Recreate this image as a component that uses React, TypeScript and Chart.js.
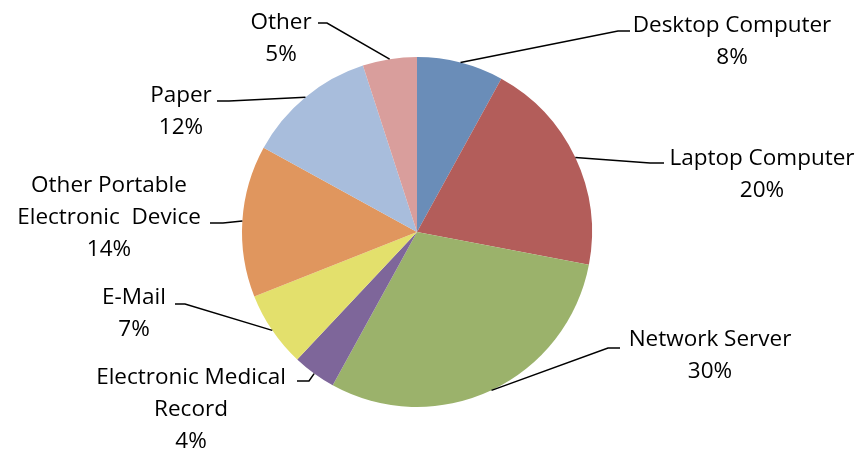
import { useEffect, useRef } from "react";
import { Chart, registerables } from "chart.js";

Chart.register(...registerables);

const categories = [
  "Desktop Computer",
  "Laptop Computer",
  "Network Server",
  "Electronic Medical Record",
  "E-Mail",
  "Other Portable Electronic  Device",
  "Paper",
  "Other",
];
const labelLines = [
  ["Desktop Computer"],
  ["Laptop Computer"],
  ["Network Server"],
  ["Electronic Medical", "Record"],
  ["E-Mail"],
  ["Other Portable", "Electronic  Device"],
  ["Paper"],
  ["Other"],
];
const values = [8, 20, 30, 4, 7, 14, 12, 5];
const colors = [
  "#6A8DB8",
  "#B35D5A",
  "#9BB26B",
  "#7E669A",
  "#E3E06C",
  "#E0965E",
  "#A8BDDC",
  "#D99E9C",
];

// label placement (layout only): elbow of leader line, horizontal end, text centre x, first line y
const labelLayout = [
  { elbow: [618, 31], end: [630, 31], tx: 732, ty: 25 },
  { elbow: [650, 163], end: [664, 163], tx: 762, ty: 158 },
  { elbow: [608, 348], end: [620, 348], tx: 710, ty: 339 },
  { elbow: [309, 381], end: [297, 381], tx: 191, ty: 377 },
  { elbow: [185, 304], end: [175, 304], tx: 134, ty: 297 },
  { elbow: [223, 223], end: [210, 223], tx: 109, ty: 185 },
  { elbow: [229, 101], end: [217, 101], tx: 181, ty: 95 },
  { elbow: [327, 23], end: [318, 23], tx: 281, ty: 22 },
];

const FONT = "22.5px 'Open Sans', sans-serif";
const LINE_H = 32;

const labelPlugin = {
  id: "leaderLabels",
  afterDraw(chart: any) {
    const ctx = chart.ctx;
    const meta = chart.getDatasetMeta(0);
    const data = chart.data.datasets[0].data as number[];
    const total = data.reduce((a, b) => a + b, 0);
    ctx.save();
    meta.data.forEach((arc: any, i: number) => {
      const { x, y, startAngle, endAngle, outerRadius } = arc.getProps(
        ["x", "y", "startAngle", "endAngle", "outerRadius"],
        true
      );
      const mid = (startAngle + endAngle) / 2;
      const px = x + Math.cos(mid) * outerRadius;
      const py = y + Math.sin(mid) * outerRadius;
      const L = labelLayout[i];
      ctx.strokeStyle = "#000";
      ctx.lineWidth = 1.5;
      ctx.beginPath();
      ctx.moveTo(px, py);
      ctx.lineTo(L.elbow[0], L.elbow[1]);
      ctx.lineTo(L.end[0], L.end[1]);
      ctx.stroke();
      const lines = [...labelLines[i], Math.round((data[i] / total) * 100) + "%"];
      ctx.fillStyle = "#000";
      ctx.font = FONT;
      ctx.textAlign = "center";
      ctx.textBaseline = "middle";
      lines.forEach((t, k) => ctx.fillText(t, L.tx, L.ty + 1 + k * LINE_H));
    });
    ctx.restore();
  },
};

export default function App() {
  const ref = useRef<HTMLCanvasElement>(null);
  useEffect(() => {
    if (!ref.current) return;
    const chart = new Chart(ref.current, {
      type: "pie",
      data: {
        labels: categories,
        datasets: [
          {
            data: values,
            backgroundColor: colors,
            borderWidth: 0,
          },
        ],
      },
      options: {
        animation: false,
        responsive: true,
        maintainAspectRatio: false,
        layout: { padding: { left: 242, right: 269, top: 57, bottom: 47 } },
        plugins: { legend: { display: false }, tooltip: { enabled: false } },
      },
      plugins: [labelPlugin],
    });
    return () => chart.destroy();
  }, []);
  return (
    <div
      style={{
        position: "absolute",
        left: 0,
        top: 0,
        width: 861,
        height: 454,
        background: "#fff",
      }}
    >
      <canvas ref={ref} />
    </div>
  );
}
